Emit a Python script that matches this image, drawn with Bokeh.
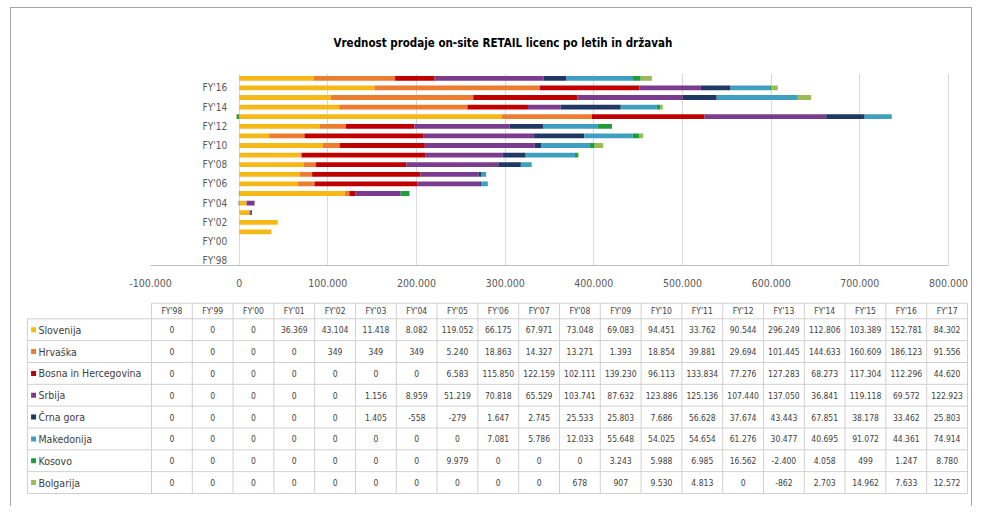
import numpy as np
from bokeh.plotting import figure
from bokeh.models import FactorRange, Range1d, FixedTicker, CustomJSTickFormatter, ColumnDataSource
from bokeh.layouts import column
from bokeh.embed import file_html
from bokeh.resources import INLINE
from bokeh.core.properties import value

title_text = "Vrednost prodaje on-site RETAIL licenc po letih in državah"
years = ["FY'98", "FY'99", "FY'00", "FY'01", "FY'02", "FY'03", "FY'04", "FY'05", "FY'06", "FY'07",
         "FY'08", "FY'09", "FY'10", "FY'11", "FY'12", "FY'13", "FY'14", "FY'15", "FY'16", "FY'17"]
series_names = ["Slovenija", "Hrvaška", "Bosna in Hercegovina", "Srbija", "Črna gora",
                "Makedonija", "Kosovo", "Bolgarija"]
slovenija = [0, 0, 0, 36369, 43104, 11418, 8082, 119052, 66175, 67971, 73048, 69083, 94451, 33762,
             90544, 296249, 112806, 103389, 152781, 84302]
hrvaska = [0, 0, 0, 0, 349, 349, 349, 5240, 18863, 14327, 13271, 1393, 18854, 39881, 29694,
           101445, 144633, 160609, 186123, 91556]
bosna = [0, 0, 0, 0, 0, 0, 0, 6583, 115850, 122159, 102111, 139230, 96113, 133834, 77276,
         127283, 68273, 117304, 112296, 44620]
srbija = [0, 0, 0, 0, 0, 1156, 8959, 51219, 70818, 65529, 103741, 87632, 123886, 125136, 107440,
          137050, 36841, 119118, 69572, 122923]
crna_gora = [0, 0, 0, 0, 0, 1405, -558, -279, 1647, 2745, 25533, 25803, 7686, 56628, 37674,
             43443, 67851, 38178, 33462, 25803]
makedonija = [0, 0, 0, 0, 0, 0, 0, 0, 7081, 5786, 12033, 55648, 54025, 54654, 61276, 30477,
              40695, 91072, 44361, 74914]
kosovo = [0, 0, 0, 0, 0, 0, 0, 9979, 0, 0, 0, 3243, 5988, 6985, 16562, -2400, 4058, 499, 1247, 8780]
bolgarija = [0, 0, 0, 0, 0, 0, 0, 0, 0, 0, 678, 907, 9530, 4813, 0, -862, 2703, 14962, 7633, 12572]
colors = ["#F6B817", "#EC7C30", "#C00000", "#7B3C8E", "#1F3864", "#3E9FC1", "#1E9E3A", "#9BBB59"]
x_ticks = [-100000, 0, 100000, 200000, 300000, 400000, 500000, 600000, 700000, 800000]
shown_year_labels = years[::2]

series = [slovenija, hrvaska, bosna, srbija, crna_gora, makedonija, kosovo, bolgarija]
FONT = "DejaVu Sans Condensed, Roboto, sans-serif"
TXT = "#404040"

W = 960
# pixel layout of the value axis inside the canvas
AX_LEFT_PX, AX_RIGHT_PX = 139, 937
per_px = (x_ticks[-1] - x_ticks[0]) / (AX_RIGHT_PX - AX_LEFT_PX)
x_start = x_ticks[0] - AX_LEFT_PX * per_px
x_end = x_ticks[-1] + (W - AX_RIGHT_PX) * per_px

# ---------------- chart ----------------
p1 = figure(width=W, height=290, y_range=FactorRange(factors=years, range_padding=0),
            x_range=Range1d(x_start, x_end), y_axis_location=None,
            output_backend="svg", toolbar_location=None,
            min_border_left=0, min_border_right=0, min_border_top=65, min_border_bottom=33)
p1.outline_line_color = None

vals = np.array(series, dtype=float)
pos = np.where(vals > 0, vals, 0.0)
neg = np.where(vals < 0, vals, 0.0)
pos_cum = np.cumsum(pos, axis=0)
neg_cum = np.cumsum(neg, axis=0)
for i, name in enumerate(series_names):
    left = np.where(vals[i] >= 0, pos_cum[i] - pos[i], neg_cum[i])
    right = np.where(vals[i] >= 0, pos_cum[i], neg_cum[i] - neg[i])
    src = ColumnDataSource(dict(y=years, left=left, right=right))
    p1.hbar(y="y", left="left", right="right", height=0.5, source=src,
            fill_color=colors[i], line_color=None)

p1.text(x=[0] * len(shown_year_labels), y=shown_year_labels, text=shown_year_labels,
        x_offset=-12, text_align="right", text_baseline="middle",
        text_font=value(FONT), text_font_size="10px", text_color="#595959")

p1.xaxis.ticker = FixedTicker(ticks=x_ticks)
p1.xaxis.bounds = (x_ticks[0], x_ticks[-1])
p1.xaxis.formatter = CustomJSTickFormatter(
    code=r"return Math.round(tick).toString().replace(/\B(?=(\d{3})+(?!\d))/g, '.');")
p1.xaxis.major_tick_line_color = None
p1.xaxis.minor_tick_line_color = None
p1.xaxis.axis_line_color = "#bfbfbf"
p1.xaxis.major_label_text_font = FONT
p1.xaxis.major_label_text_font_size = "10.5px"
p1.xaxis.major_label_text_color = "#595959"
p1.xaxis.major_label_standoff = 7
p1.xgrid.ticker = FixedTicker(ticks=x_ticks[1:])
p1.xgrid.grid_line_color = "#d9d9d9"
p1.ygrid.grid_line_color = None

p1.title.text = title_text
p1.title.align = "left"
p1.title.offset = 322
p1.title.standoff = 48
p1.title.text_font = FONT
p1.title.text_font_size = "11.5px"
p1.title.text_font_style = "bold"
p1.title.text_color = "#000000"

# ---------------- data table ----------------
n_cols = len(years)
n_rows = len(series_names)
label_w = 3.04
header_h = 0.715
p2 = figure(width=W, height=208, x_range=Range1d(-3.431, 20.098), y_range=Range1d(8.596, -0.93),
            x_axis_location=None, y_axis_location=None, min_border=0,
            output_backend="svg", toolbar_location=None)
p2.outline_line_color = None
p2.grid.visible = False

x0, y0, x1, y1 = [0], [-header_h], [n_cols], [-header_h]
for r in range(n_rows + 1):
    x0.append(-label_w); y0.append(r); x1.append(n_cols); y1.append(r)
for c in range(n_cols + 1):
    x0.append(c); y0.append(-header_h); x1.append(c); y1.append(n_rows)
x0.append(-label_w); y0.append(0); x1.append(-label_w); y1.append(n_rows)
p2.segment(x0=x0, y0=y0, x1=x1, y1=y1, line_color="#d0d0d0", line_width=1)


def fmt(v):
    return f"{int(v):,}".replace(",", ".")


cx, cy, ct = [], [], []
for r, row in enumerate(series):
    for c, v in enumerate(row):
        cx.append(c + 0.5); cy.append(r + 0.5); ct.append(fmt(v))
p2.text(x=cx, y=cy, text=ct, text_align="center", text_baseline="middle",
        text_font=value(FONT), text_font_size="8.5px", text_color=TXT)
p2.text(x=[c + 0.5 for c in range(n_cols)], y=[-header_h / 2] * n_cols, text=years,
        text_align="center", text_baseline="middle",
        text_font=value(FONT), text_font_size="8.5px", text_color=TXT)
p2.scatter(x=[-label_w + 0.15] * n_rows, y=[r + 0.5 for r in range(n_rows)], marker="square",
           size=5, fill_color=colors, line_color=None)
p2.text(x=[-label_w + 0.27] * n_rows, y=[r + 0.5 for r in range(n_rows)], text=series_names,
        text_align="left", text_baseline="middle",
        text_font=value(FONT), text_font_size="10.5px", text_color=TXT)

layout = column(p1, p2, styles={"margin-left": "10px", "margin-top": "7px",
                                "border-top": "1px solid #a6a6a6",
                                "border-left": "1px solid #a6a6a6",
                                "border-right": "1px solid #a6a6a6"})

open("out.html", "w").write(file_html(layout, INLINE))
